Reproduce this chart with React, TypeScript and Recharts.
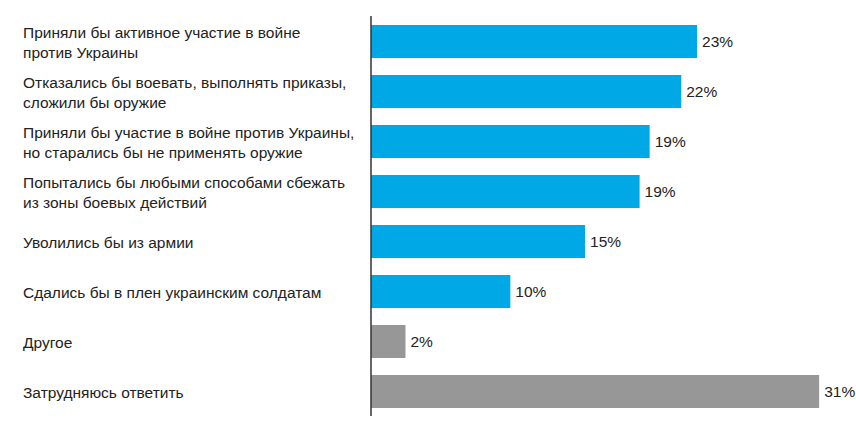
import React from "react";
import { Bar, BarChart, Cell, LabelList, XAxis, YAxis } from "recharts";

const categories = [
  "Приняли бы активное участие в войне\nпротив Украины",
  "Отказались бы воевать, выполнять приказы,\nсложили бы оружие",
  "Приняли бы участие в войне против Украины,\nно старались бы не применять оружие",
  "Попытались бы любыми способами сбежать\nиз зоны боевых действий",
  "Уволились бы из армии",
  "Сдались бы в плен украинским солдатам",
  "Другое",
  "Затрудняюсь ответить",
];

const values = [22.7, 21.6, 19.4, 18.7, 14.9, 9.7, 2.4, 31.2];
const valueLabels = ["23%", "22%", "19%", "19%", "15%", "10%", "2%", "31%"];
const barColors = ["#00a8e6", "#00a8e6", "#00a8e6", "#00a8e6", "#00a8e6", "#00a8e6", "#979797", "#979797"];

const data = categories.map((name, i) => ({
  name,
  value: values[i],
  label: valueLabels[i],
}));

const FONT = '"Liberation Sans", Arial, sans-serif';

const CategoryTick = ({ y, payload }: any) => {
  const lines = String(payload.value).split("\n");
  const lineHeight = 20;
  const startDy = -((lines.length - 1) * lineHeight) / 2;
  return (
    <text x={23} y={y} textAnchor="start" fill="#222" fontSize={15.5} fontFamily={FONT}>
      {lines.map((line, i) => (
        <tspan key={i} x={23} dy={i === 0 ? startDy + 6.5 : lineHeight}>
          {line}
        </tspan>
      ))}
    </text>
  );
};

export default function App() {
  return (
    <div style={{ position: "absolute", left: 0, top: 0, background: "#fff" }}>
      <BarChart
        width={856}
        height={423}
        data={data}
        layout="vertical"
        margin={{ top: 16, right: 11, left: 0, bottom: 7 }}
      >
        <XAxis type="number" domain={[0, 33]} hide />
        <YAxis
          type="category"
          dataKey="name"
          width={371}
          axisLine={{ stroke: "#333", strokeWidth: 1.5 }}
          tickLine={false}
          tick={<CategoryTick />}
          interval={0}
        />
        <Bar dataKey="value" barSize={33} isAnimationActive={false}>
          {data.map((d, i) => (
            <Cell key={d.name} fill={barColors[i]} />
          ))}
          <LabelList
            dataKey="label"
            position="right"
            offset={5}
            fill="#222"
            fontSize={15.5}
            fontFamily={FONT}
          />
        </Bar>
      </BarChart>
    </div>
  );
}
